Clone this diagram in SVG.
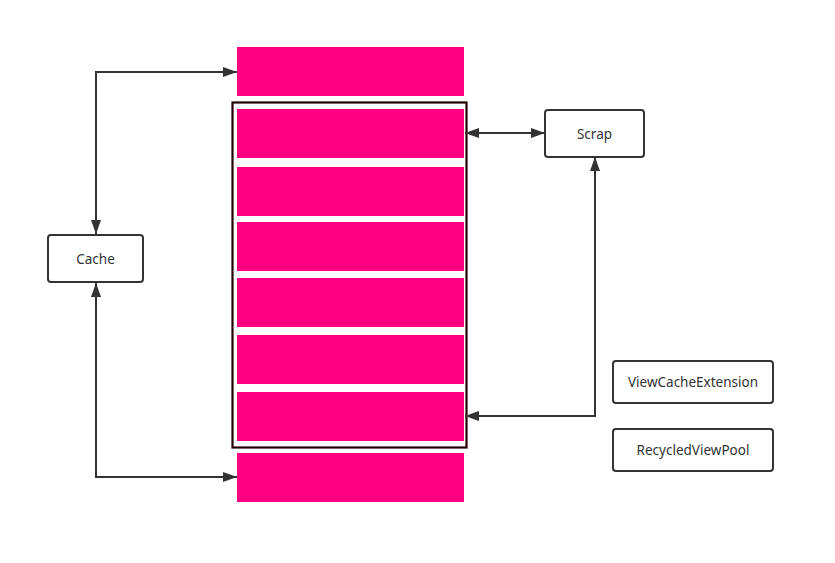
<svg xmlns="http://www.w3.org/2000/svg" width="835" height="563" viewBox="0 0 835 563">
<style>
.bar{fill:#FF0080}
.node{fill:#fff;stroke:#333;stroke-width:2}
.lbl{font-family:"Noto Sans","Open Sans",sans-serif;font-size:13.5px;fill:#333;text-anchor:middle;dominant-baseline:central}
.con{fill:none;stroke:#333;stroke-width:2}
</style>
<defs>
<marker id="ah" viewBox="0 0 14 10" refX="14" refY="5" markerWidth="14" markerHeight="10" markerUnits="userSpaceOnUse" orient="auto-start-reverse">
<path d="M0,0 L14,5 L0,10 Z" fill="#333"/>
</marker>
</defs>
<rect width="835" height="563" fill="#fff"/>
<g id="bars">
<rect class="bar" x="237" y="47" width="227" height="49"/>
<rect class="bar" x="237" y="109" width="227" height="49"/>
<rect class="bar" x="237" y="167" width="227" height="49"/>
<rect class="bar" x="237" y="222" width="227" height="49"/>
<rect class="bar" x="237" y="278" width="227" height="49"/>
<rect class="bar" x="237" y="335" width="227" height="49"/>
<rect class="bar" x="237" y="392" width="227" height="49"/>
<rect class="bar" x="237" y="453" width="227" height="49"/>
</g>
<g id="frame">
<rect x="232.5" y="102.5" width="234" height="345" fill="none" stroke="#220000" stroke-width="2.2"/>
</g>
<g id="cache">
<rect class="node" x="48" y="235" width="95" height="47" rx="3"/>
<text class="lbl" x="95.5" y="259">Cache</text>
</g>
<g id="scrap">
<rect class="node" x="545" y="110" width="99" height="47" rx="3"/>
<text class="lbl" x="594.5" y="134">Scrap</text>
</g>
<g id="viewcacheextension">
<rect class="node" x="613" y="361" width="160" height="42" rx="3"/>
<text class="lbl" x="693" y="382">ViewCacheExtension</text>
</g>
<g id="recycledviewpool">
<rect class="node" x="613" y="429" width="160" height="42" rx="3"/>
<text class="lbl" x="693" y="450">RecycledViewPool</text>
</g>
<g id="connectors">
<path class="con" d="M96,234 L96,72 L237,72" marker-start="url(#ah)" marker-end="url(#ah)"/>
<path class="con" d="M96,283 L96,477 L237,477" marker-start="url(#ah)" marker-end="url(#ah)"/>
<path class="con" d="M465,133 L545,133" marker-start="url(#ah)" marker-end="url(#ah)"/>
<path class="con" d="M595,157 L595,416 L465,416" marker-start="url(#ah)" marker-end="url(#ah)"/>
</g>
</svg>
